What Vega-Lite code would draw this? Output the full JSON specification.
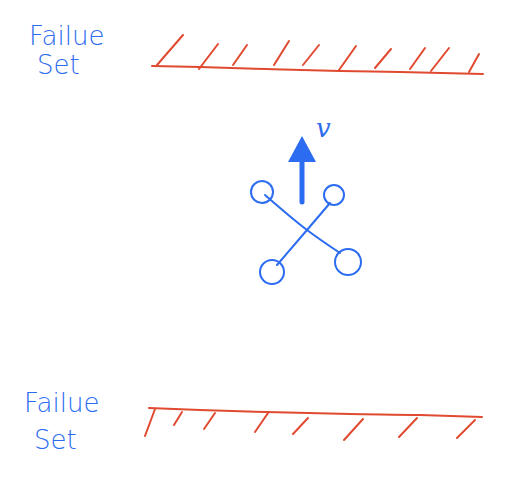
{
  "$schema": "https://vega.github.io/schema/vega-lite/v6.json",
  "width": 532,
  "height": 478,
  "autosize": {"type": "fit", "contains": "padding"},
  "padding": 0,
  "background": "white",
  "config": {"view": {"stroke": null}},
  "datasets": {
    "strokes": [
      {"part": "boundary", "s": "top", "k": 0, "x": 152, "y": 66},
      {"part": "boundary", "s": "top", "k": 1, "x": 200, "y": 67},
      {"part": "boundary", "s": "top", "k": 2, "x": 266, "y": 69},
      {"part": "boundary", "s": "top", "k": 3, "x": 340, "y": 71},
      {"part": "boundary", "s": "top", "k": 4, "x": 400, "y": 72},
      {"part": "boundary", "s": "top", "k": 5, "x": 483, "y": 74},
      {"part": "hatch", "s": "t1", "k": 0, "x": 157, "y": 65},
      {"part": "hatch", "s": "t1", "k": 1, "x": 183, "y": 35},
      {"part": "hatch", "s": "t2", "k": 0, "x": 199, "y": 69},
      {"part": "hatch", "s": "t2", "k": 1, "x": 218, "y": 44},
      {"part": "hatch", "s": "t3", "k": 0, "x": 233, "y": 65},
      {"part": "hatch", "s": "t3", "k": 1, "x": 247, "y": 45},
      {"part": "hatch", "s": "t4", "k": 0, "x": 274, "y": 65},
      {"part": "hatch", "s": "t4", "k": 1, "x": 289, "y": 41},
      {"part": "hatch", "s": "t5", "k": 0, "x": 303, "y": 65},
      {"part": "hatch", "s": "t5", "k": 1, "x": 319, "y": 45},
      {"part": "hatch", "s": "t6", "k": 0, "x": 339, "y": 70},
      {"part": "hatch", "s": "t6", "k": 1, "x": 356, "y": 46},
      {"part": "hatch", "s": "t7", "k": 0, "x": 375, "y": 68},
      {"part": "hatch", "s": "t7", "k": 1, "x": 391, "y": 49},
      {"part": "hatch", "s": "t8", "k": 0, "x": 410, "y": 69},
      {"part": "hatch", "s": "t8", "k": 1, "x": 425, "y": 48},
      {"part": "hatch", "s": "t9", "k": 0, "x": 431, "y": 71},
      {"part": "hatch", "s": "t9", "k": 1, "x": 449, "y": 48},
      {"part": "hatch", "s": "t10", "k": 0, "x": 469, "y": 72},
      {"part": "hatch", "s": "t10", "k": 1, "x": 479, "y": 54},
      {"part": "boundary", "s": "bottom", "k": 0, "x": 149, "y": 408},
      {"part": "boundary", "s": "bottom", "k": 1, "x": 200, "y": 410},
      {"part": "boundary", "s": "bottom", "k": 2, "x": 266, "y": 412},
      {"part": "boundary", "s": "bottom", "k": 3, "x": 350, "y": 414},
      {"part": "boundary", "s": "bottom", "k": 4, "x": 420, "y": 415},
      {"part": "boundary", "s": "bottom", "k": 5, "x": 482, "y": 417},
      {"part": "hatch", "s": "b1", "k": 0, "x": 155, "y": 409},
      {"part": "hatch", "s": "b1", "k": 1, "x": 145, "y": 436},
      {"part": "hatch", "s": "b2", "k": 0, "x": 182, "y": 412},
      {"part": "hatch", "s": "b2", "k": 1, "x": 174, "y": 425},
      {"part": "hatch", "s": "b3", "k": 0, "x": 215, "y": 413},
      {"part": "hatch", "s": "b3", "k": 1, "x": 204, "y": 429},
      {"part": "hatch", "s": "b4", "k": 0, "x": 268, "y": 413},
      {"part": "hatch", "s": "b4", "k": 1, "x": 255, "y": 432},
      {"part": "hatch", "s": "b5", "k": 0, "x": 308, "y": 418},
      {"part": "hatch", "s": "b5", "k": 1, "x": 293, "y": 434},
      {"part": "hatch", "s": "b6", "k": 0, "x": 363, "y": 419},
      {"part": "hatch", "s": "b6", "k": 1, "x": 344, "y": 440},
      {"part": "hatch", "s": "b7", "k": 0, "x": 417, "y": 418},
      {"part": "hatch", "s": "b7", "k": 1, "x": 399, "y": 437},
      {"part": "hatch", "s": "b8", "k": 0, "x": 475, "y": 420},
      {"part": "hatch", "s": "b8", "k": 1, "x": 457, "y": 438},
      {"part": "arm", "s": "a1", "k": 0, "x": 265, "y": 195},
      {"part": "arm", "s": "a1", "k": 1, "x": 307, "y": 230},
      {"part": "arm", "s": "a1", "k": 2, "x": 340, "y": 253},
      {"part": "arm", "s": "a2", "k": 0, "x": 330, "y": 203},
      {"part": "arm", "s": "a2", "k": 1, "x": 307, "y": 230},
      {"part": "arm", "s": "a2", "k": 2, "x": 277, "y": 265},
      {"part": "shaft", "s": "v", "k": 0, "x": 302, "y": 202},
      {"part": "shaft", "s": "v", "k": 1, "x": 302, "y": 158}
    ],
    "rotors": [
      {"x": 262, "y": 192, "r": 11},
      {"x": 334, "y": 195, "r": 10},
      {"x": 348, "y": 262, "r": 13},
      {"x": 272, "y": 272, "r": 12}
    ],
    "heads": [
      {"x": 302, "y": 149}
    ],
    "labels": [
      {"label": "Failue", "x": 29, "y": 45},
      {"label": "Set", "x": 37, "y": 74},
      {"label": "Failue", "x": 24, "y": 412},
      {"label": "Set", "x": 34, "y": 449}
    ],
    "notes": [
      {"label": "v", "x": 316, "y": 137}
    ]
  },
  "encoding": {
    "x": {"field": "x", "type": "quantitative", "scale": {"domain": [0, 532], "nice": false, "zero": false}, "axis": null},
    "y": {"field": "y", "type": "quantitative", "scale": {"domain": [0, 478], "nice": false, "zero": false, "reverse": true}, "axis": null}
  },
  "layer": [
    {
      "data": {"name": "strokes"},
      "transform": [{"filter": "datum.part === 'boundary' || datum.part === 'hatch'"}],
      "mark": {"type": "line", "color": "#e04a30", "strokeWidth": 2, "strokeCap": "round", "interpolate": "monotone"},
      "encoding": {
        "detail": {"field": "s"},
        "order": {"field": "k"}
      }
    },
    {
      "data": {"name": "strokes"},
      "transform": [{"filter": "datum.part === 'arm'"}],
      "mark": {"type": "line", "color": "#2b6cf0", "strokeWidth": 2, "strokeCap": "round", "interpolate": "monotone"},
      "encoding": {
        "detail": {"field": "s"},
        "order": {"field": "k"}
      }
    },
    {
      "data": {"name": "strokes"},
      "transform": [{"filter": "datum.part === 'shaft'"}],
      "mark": {"type": "line", "color": "#2b6cf0", "strokeWidth": 5, "strokeCap": "round"},
      "encoding": {
        "detail": {"field": "s"},
        "order": {"field": "k"}
      }
    },
    {
      "data": {"name": "heads"},
      "mark": {"type": "point", "shape": "M0,-0.93L-1,0.93L1,0.93Z", "size": 784, "filled": true, "color": "#2b6cf0", "opacity": 1}
    },
    {
      "data": {"name": "rotors"},
      "mark": {"type": "point", "shape": "circle", "filled": false, "color": "#2b6cf0", "strokeWidth": 2, "opacity": 1},
      "encoding": {
        "size": {"field": "r", "type": "quantitative", "scale": {"type": "pow", "exponent": 2, "domain": [0, 13], "range": [0, 676]}, "legend": null}
      }
    },
    {
      "data": {"name": "labels"},
      "mark": {"type": "text", "align": "left", "baseline": "alphabetic", "font": "DejaVu Sans", "fontWeight": 300, "fontSize": 26, "color": "#2b6cf0"},
      "encoding": {"text": {"field": "label"}}
    },
    {
      "data": {"name": "notes"},
      "mark": {"type": "text", "align": "left", "baseline": "alphabetic", "font": "DejaVu Serif", "fontStyle": "italic", "fontSize": 26, "color": "#2b6cf0"},
      "encoding": {"text": {"field": "label"}}
    }
  ]
}
